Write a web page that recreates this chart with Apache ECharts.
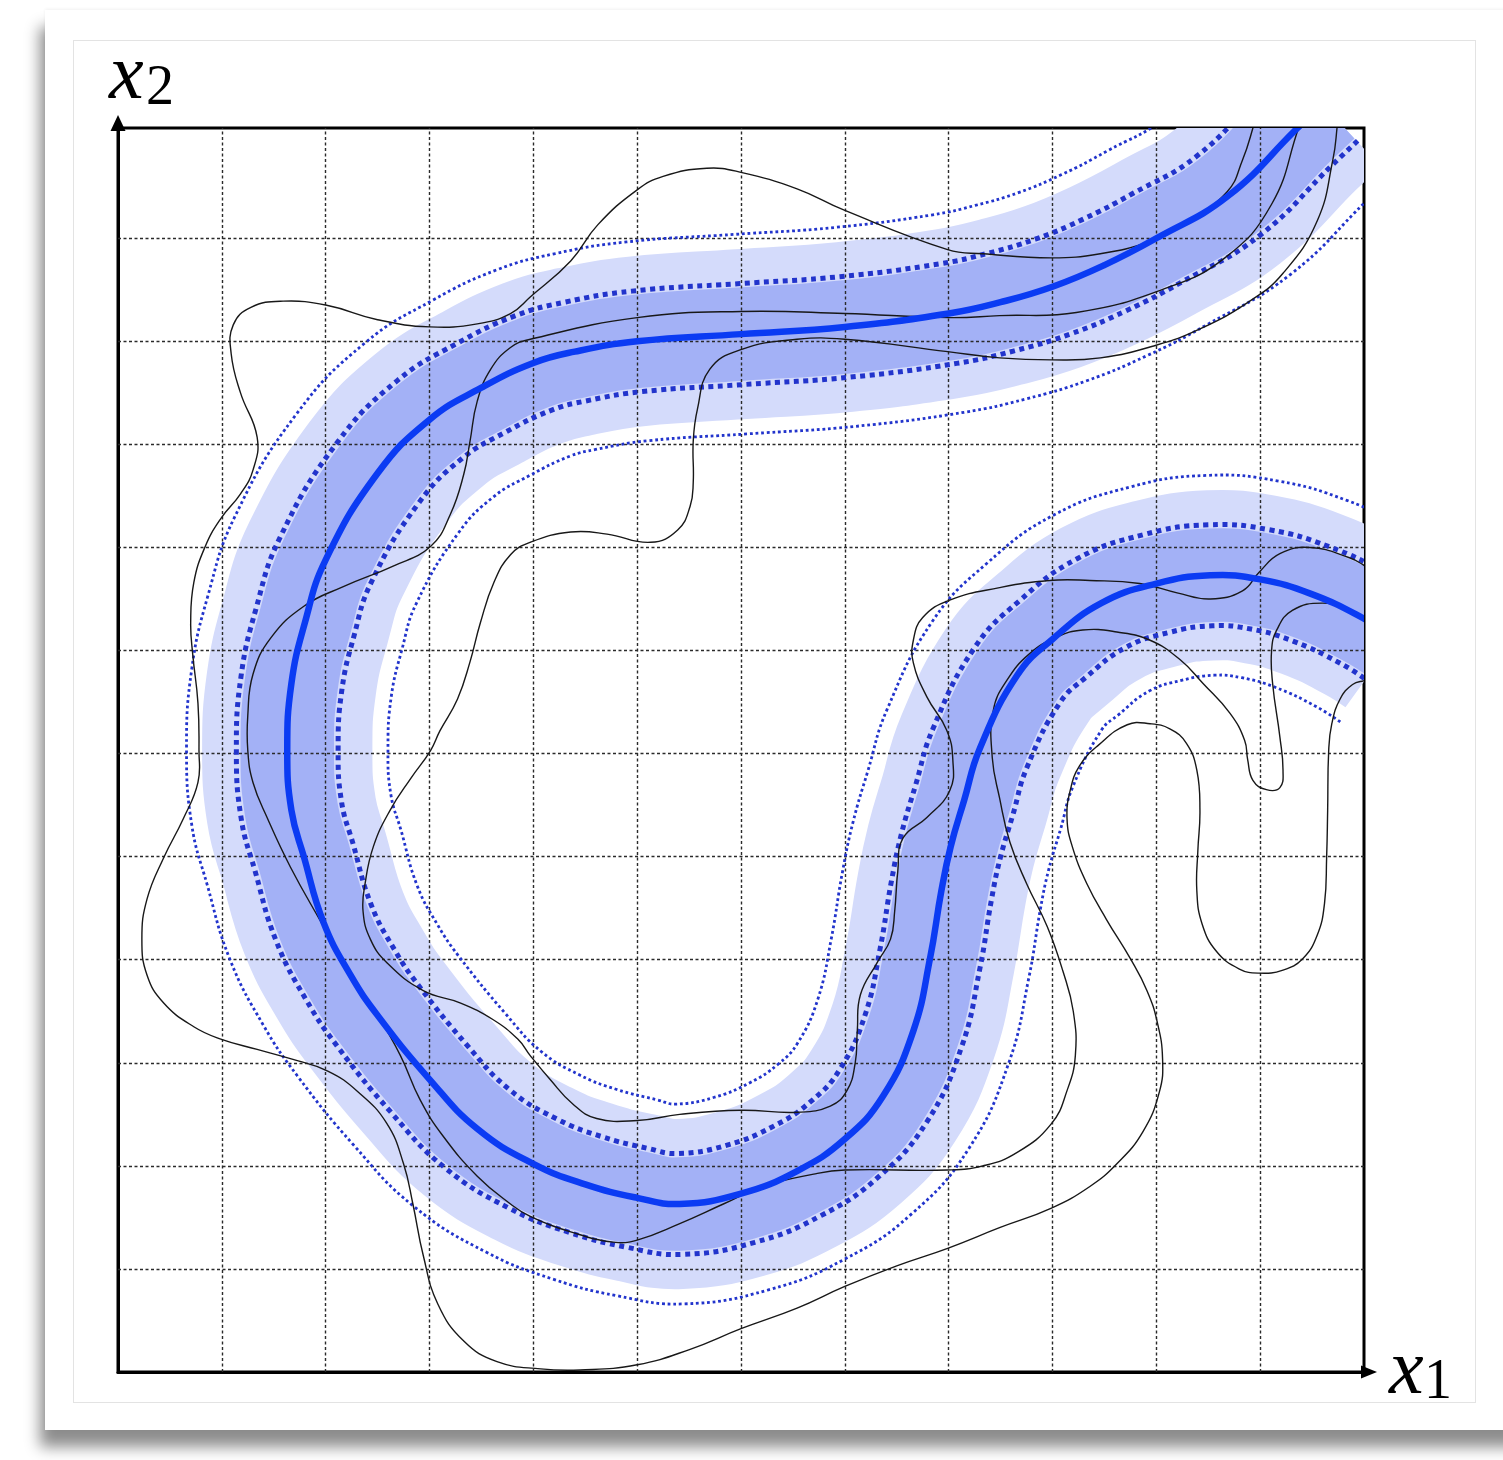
<!DOCTYPE html>
<html>
<head>
<meta charset="utf-8">
<script src="https://cdn.jsdelivr.net/npm/echarts/dist/echarts.min.js"></script>
<style>
html,body{margin:0;padding:0;background:#fff;width:1503px;height:1460px;overflow:hidden;}
#card{position:absolute;left:45px;top:10px;width:1480px;height:1420px;background:#fff;
  box-shadow:-5px 17px 14px rgba(0,0,0,0.45), 0 -1px 3px rgba(0,0,0,0.06);}
#inner{position:absolute;left:73px;top:40px;width:1401px;height:1361px;border:1px solid #e3e3e3;}
#chart{position:absolute;left:0;top:0;width:1503px;height:1460px;}
</style>
</head>
<body>
<div id="card"></div>
<div id="inner"></div>
<div id="chart"></div>
<script>
// ---------- data (x1, x2 in axis units) ----------
const gridTicks = [1,2,3,4,5,6,7,8,9,10,11];

const centerLine = [
  [11.6,12.3],[11.36,12.07],[10.69,11.41],[10.0,11.0],[9.5,10.74],[9.0,10.53],[8.5,10.38],
  [8.0,10.27],[7.0,10.14],[6.0,10.07],[5.0,10.0],[4.4,9.9],[4.0,9.79],[3.5,9.55],[3.0,9.24],
  [2.5,8.72],[2.0,7.88],[1.8,7.27],[1.67,6.68],[1.63,6.03],[1.67,5.45],[1.79,5.0],[1.98,4.36],
  [2.24,3.85],[2.5,3.46],[3.0,2.84],[3.46,2.36],[4.0,2.02],[4.5,1.82],[5.0,1.69],[5.41,1.63],
  [6.0,1.73],[6.54,1.95],[7.0,2.26],[7.37,2.68],[7.66,3.31],[7.82,4.01],[7.93,4.67],[8.02,5.1],
  [8.15,5.55],[8.3,6.05],[8.66,6.76],[9.0,7.11],[9.47,7.46],[10.0,7.65],[10.52,7.73],[11.0,7.69],
  [11.49,7.55],[12.0,7.31],[12.3,7.12]
];

// band half-widths (axis units)
const innerBand = 0.45;
const innerDots = 0.49;
const outerBand = 0.82;
const outerDots = 0.97;

const curveA = [
  [10.97,12.24],[10.93,12.07],[10.83,11.76],[10.68,11.45],[10.25,11.13],[9.94,10.97],[9.46,10.85],
  [8.99,10.81],[8.33,10.85],[7.99,10.89],[7.0,11.27],[6.54,11.48],[6.0,11.64],[5.67,11.68],
  [5.25,11.6],[5.0,11.47],[4.62,11.13],[4.36,10.78],[3.97,10.43],[3.78,10.27],[3.46,10.17],
  [3.0,10.14],[2.5,10.21],[2.01,10.35],[1.59,10.39],[1.28,10.33],[1.11,10.16],[1.09,9.88],
  [1.18,9.5],[1.34,9.07],[1.3,8.75],[1.18,8.52],[0.99,8.28],[0.84,8.01],[0.73,7.66],[0.7,7.27],
  [0.72,6.96],[0.77,6.49],[0.78,6.03],[0.77,5.72],[0.63,5.37],[0.44,4.99],[0.28,4.59],[0.23,4.2],
  [0.28,3.85],[0.44,3.58],[0.73,3.35],[0.99,3.23],[1.34,3.13],[1.66,3.04],[2.02,2.92],[2.31,2.72],
  [2.59,2.41],[2.75,2.02],[2.84,1.63],[2.94,1.13],[3.08,0.66],[3.33,0.3],[3.65,0.1],[4.07,0.03],
  [4.45,0.02],[5.0,0.07],[5.51,0.22],[6.0,0.42],[6.54,0.62],[7.0,0.83],[7.5,1.03],[7.99,1.2],
  [8.49,1.4],[8.99,1.59],[9.36,1.8],[9.62,2.02],[9.87,2.33],[10.03,2.72],[10.06,3.04],[10.01,3.39],
  [9.91,3.7],[9.75,4.01],[9.52,4.39],[9.33,4.74],[9.19,5.1],[9.14,5.37],[9.17,5.64],[9.26,5.88],
  [9.44,6.08],[9.72,6.28],[9.94,6.29],[10.13,6.24],[10.29,6.1],[10.39,5.84],[10.42,5.45],[10.4,5.06],
  [10.39,4.67],[10.44,4.35],[10.58,4.08],[10.8,3.91],[10.99,3.87],[11.22,3.9],[11.41,4.01],
  [11.55,4.24],[11.62,4.55],[11.64,4.99],[11.65,5.45],[11.66,6.03],[11.69,6.29],[11.77,6.53],
  [11.89,6.67],[12.01,6.71],[12.15,6.75]
];

const curveB = [
  [11.43,12.24],[11.37,12.07],[11.11,11.33],[10.66,10.81],[10.05,10.5],[9.23,10.28],[8.49,10.25],
  [8.01,10.23],[7.0,10.27],[6.0,10.29],[5.0,10.23],[3.97,10.02],[3.78,9.94],[3.59,9.73],[3.46,9.42],
  [3.39,9.03],[3.33,8.71],[3.2,8.32],[3.01,8.01],[2.65,7.82],[2.17,7.62],[1.79,7.43],[1.47,7.12],
  [1.3,6.77],[1.25,6.37],[1.25,6.03],[1.3,5.72],[1.44,5.37],[1.66,4.9],[1.98,4.32],[2.24,3.85],
  [2.5,3.46],[2.72,3.07],[2.91,2.64],[3.13,2.29],[3.46,1.9],[3.78,1.63],[3.97,1.51],[4.36,1.36],
  [4.77,1.26],[5.0,1.28],[5.41,1.44],[5.83,1.63],[6.21,1.8],[6.7,1.92],[7.0,1.96],[7.99,1.96],
  [8.33,2.0],[8.66,2.13],[8.99,2.41],[9.14,2.73],[9.22,3.07],[9.2,3.5],[9.1,3.89],[8.95,4.32],
  [8.75,4.74],[8.59,5.14],[8.49,5.57],[8.42,5.96],[8.43,6.42],[8.56,6.71],[8.78,6.97],[9.04,7.13],
  [9.29,7.2],[9.62,7.18],[9.94,7.1],[10.23,6.91],[10.45,6.68],[10.71,6.39],[10.85,6.13],[10.88,5.94],
  [10.93,5.74],[11.06,5.65],[11.19,5.67],[11.22,5.84],[11.19,6.16],[11.12,6.68],[11.11,7.0],
  [11.16,7.2],[11.31,7.39],[11.6,7.46],[11.86,7.39],[12.01,7.31],[12.15,7.23]
];

const curveC = [
  [11.75,12.24],[11.74,12.07],[11.7,11.76],[11.55,11.17],[11.22,10.66],[10.9,10.39],[10.42,10.12],
  [9.99,9.96],[9.46,9.84],[8.99,9.82],[8.49,9.84],[7.99,9.9],[7.0,10.02],[6.54,10.02],[6.0,9.92],
  [5.7,9.73],[5.58,9.34],[5.54,9.03],[5.54,8.63],[5.51,8.4],[5.39,8.17],[5.13,8.05],[4.71,8.13],
  [4.36,8.15],[3.97,8.05],[3.78,7.93],[3.62,7.66],[3.49,7.27],[3.39,6.89],[3.27,6.53],[3.1,6.22],
  [3.01,6.03],[2.82,5.76],[2.62,5.45],[2.46,5.1],[2.38,4.74],[2.36,4.47],[2.43,4.2],[2.59,3.97],
  [2.94,3.7],[3.3,3.58],[3.61,3.42],[3.85,3.23],[3.97,3.07],[4.16,2.84],[4.38,2.6],[4.61,2.46],
  [5.0,2.44],[5.41,2.5],[6.0,2.54],[6.54,2.52],[6.86,2.58],[7.02,2.73],[7.1,3.0],[7.12,3.31],
  [7.15,3.66],[7.31,3.97],[7.44,4.2],[7.48,4.47],[7.51,4.86],[7.56,5.18],[7.79,5.38],[8.01,5.64],
  [8.04,5.94],[7.98,6.23],[7.79,6.55],[7.66,6.88],[7.66,7.1],[7.75,7.32],[8.01,7.49],[8.49,7.61],
  [8.97,7.68],[9.36,7.68],[9.84,7.65],[10.2,7.56],[10.52,7.5],[10.83,7.58],[10.99,7.76],[11.19,7.94],
  [11.48,8.0],[11.86,7.9],[12.01,7.82],[12.15,7.72]
];

// ---------- layout ----------
const X_MAX = 12, Y_MAX = 12.07;
const GRID = {left: 118, top: 128, width: 1246, height: 1244};

function offsetLine(pts, d) {
  return pts.map((p, i) => {
    const a = pts[Math.max(i - 1, 0)], b = pts[Math.min(i + 1, pts.length - 1)];
    let tx = b[0] - a[0], ty = b[1] - a[1];
    const L = Math.hypot(tx, ty);
    tx /= L; ty /= L;
    return [p[0] - ty * d, p[1] + tx * d];
  });
}

const chart = echarts.init(document.getElementById('chart'), null, {renderer: 'canvas'});

// polyline drawn through the cartesian scale, clipped exactly to the plot area
function pathSeries(points, halfWidthUnits, pxWidth, color, z, dash) {
  return {
    type: 'custom', coordinateSystem: 'cartesian2d', data: [[0, 0]], clip: true, z: z, silent: true,
    renderItem: function (params, api) {
      const pts = points.map(p => api.coord(p));
      const w = halfWidthUnits ? api.size([2 * halfWidthUnits, 0])[0] : pxWidth;
      const style = {stroke: color, lineWidth: w, fill: null, lineCap: 'butt', lineJoin: 'round'};
      if (dash) style.lineDash = dash;
      return {type: 'polyline', shape: {points: pts, smooth: 0.45}, style: style, silent: true};
    }
  };
}

const gridMarks = gridTicks.map(v => ({xAxis: v})).concat(gridTicks.map(v => ({yAxis: v})));

const axisCommon = {
  type: 'value', min: 0,
  axisTick: {show: false}, axisLabel: {show: false}, splitLine: {show: false},
  axisLine: {show: true, lineStyle: {color: '#000', width: 3}}
};

const dotColor = '#2234cc';
const gL = GRID.left, gT = GRID.top, gR = GRID.left + GRID.width, gB = GRID.top + GRID.height;

chart.setOption({
  animation: false,
  backgroundColor: 'transparent',
  grid: Object.assign({show: true, borderColor: '#000', borderWidth: 3, backgroundColor: 'transparent'}, GRID),
  xAxis: Object.assign({}, axisCommon, {max: X_MAX}),
  yAxis: Object.assign({}, axisCommon, {max: Y_MAX}),
  series: [
    pathSeries(centerLine, outerBand, 0, '#d4dbfb', 1),
    pathSeries(centerLine, innerBand, 0, '#a3b1f6', 1),
    {type: 'line', data: [], silent: true,
     markLine: {silent: true, symbol: ['none', 'none'], z: 3, animation: false,
                label: {show: false},
                lineStyle: {type: [3, 2.5], color: '#2a2a2a', width: 1.4},
                emphasis: {disabled: true},
                data: gridMarks}},
    pathSeries(offsetLine(centerLine, innerDots), 0, 5, dotColor, 4, [5, 4.5]),
    pathSeries(offsetLine(centerLine, -innerDots), 0, 5, dotColor, 4, [5, 4.5]),
    pathSeries(offsetLine(centerLine, outerDots), 0, 2.8, dotColor, 4, [2.8, 2.8]),
    pathSeries(offsetLine(centerLine, -outerDots), 0, 2.8, dotColor, 4, [2.8, 2.8]),
    pathSeries(curveA, 0, 1.4, '#181818', 6),
    pathSeries(curveB, 0, 1.4, '#181818', 6),
    pathSeries(curveC, 0, 1.4, '#181818', 6),
    pathSeries(centerLine, 0, 6.5, '#0b3bf3', 7)
  ],
  graphic: [
    // axis arrow heads
    {type: 'polygon', z: 10, shape: {points: [[gL - 7.5, gT + 3], [gL + 7.5, gT + 3], [gL, gT - 13]]}, style: {fill: '#000'}},
    {type: 'polygon', z: 10, shape: {points: [[gR - 3, gB - 6.5], [gR - 3, gB + 6.5], [gR + 13, gB]]}, style: {fill: '#000'}},
    // axis titles
    {type: 'text', x: 109, y: 77, z: 10, style: {text: 'x', font: 'italic 78px "Liberation Serif", "DejaVu Serif", serif', fill: '#000', verticalAlign: 'middle', align: 'left'}},
    {type: 'text', x: 146, y: 89, z: 10, style: {text: '2', font: '56px "Liberation Serif", "DejaVu Serif", serif', fill: '#000', verticalAlign: 'middle', align: 'left'}},
    {type: 'text', x: 1389, y: 1372, z: 10, style: {text: 'x', font: 'italic 78px "Liberation Serif", "DejaVu Serif", serif', fill: '#000', verticalAlign: 'middle', align: 'left'}},
    {type: 'text', x: 1424, y: 1383, z: 10, style: {text: '1', font: '56px "Liberation Serif", "DejaVu Serif", serif', fill: '#000', verticalAlign: 'middle', align: 'left'}}
  ]
});
</script>
</body>
</html>
